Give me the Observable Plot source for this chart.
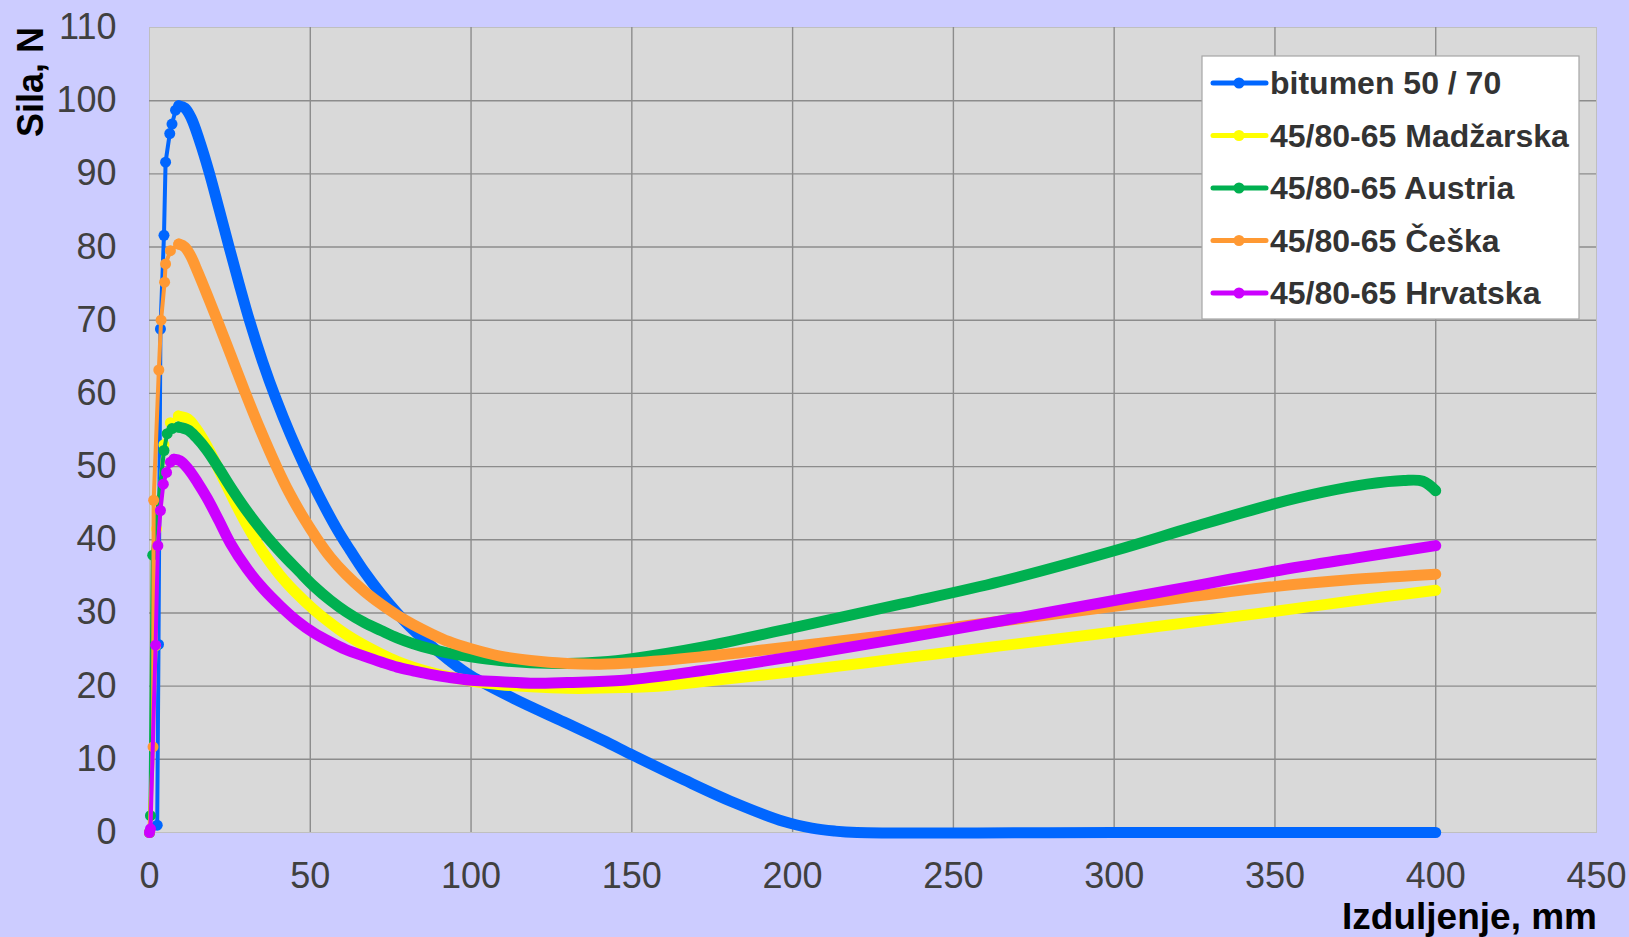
<!DOCTYPE html>
<html>
<head>
<meta charset="utf-8">
<script src="https://cdn.jsdelivr.net/npm/d3@7"></script>
<script src="https://cdn.jsdelivr.net/npm/@observablehq/plot@0.6"></script>
<style>
html, body { margin: 0; padding: 0; background: #CCCCFF; }
#chart { width: 1629px; height: 937px; }
</style>
</head>
<body>
<div id="chart"></div>
<script>
// ---- Data ----
const seriesNames = ["bitumen 50 / 70", "45/80-65 Madžarska", "45/80-65 Austria", "45/80-65 Češka", "45/80-65 Hrvatska"];
const seriesColors = ["#0066FF", "#FFFF00", "#00B050", "#FF9933", "#CC00FF"];

const xTicks = [0, 50, 100, 150, 200, 250, 300, 350, 400, 450];
const yTicks = [0, 10, 20, 30, 40, 50, 60, 70, 80, 90, 100, 110];
const xTitle = "Izduljenje, mm";
const yTitle = "Sila, N";

// rising part (sparse measured points, x in mm, force in N)
const riseBitumen = [[0,0],[2.4,1],[2.8,25.7],[3.4,68.8],[4.5,81.6],[5,91.6],[6.3,95.5],[7,96.8],[8.1,98.7],[9.1,99.3]];
const riseMadzarska = [[0,0],[1.9,25.5],[2.2,41.5],[4.5,53],[6.5,56],[9,56.9]];
const riseAustria = [[0,0],[0.3,2.3],[1,37.9],[4.5,52.2],[5.5,54.5],[7,55.2],[9,55.4]];
const riseCeska = [[0,0],[1.1,11.7],[1.3,45.4],[2.9,63.2],[3.6,70],[4.7,75.2],[5,77.7],[6.5,79.5],[9.1,80.4]];
const riseHrvatska = [[0,0],[0.3,0.5],[1.9,25.6],[2.6,39.2],[3.4,44],[4.3,47.6],[5.3,49.2],[6.5,50.6],[7.6,51]];

// dense part after the peak
const traceBitumen = [[9.1,99.3],[11,99.0],[13,97.6],[15.5,94.6],[18.5,90.3],[21.5,85.4],[24.7,80.1],[27.9,74.9],[31.2,69.8],[35.2,64.3],[39.3,59.3],[43.8,54.4],[48.3,50.0],[53.3,45.5],[58.5,41.3],[62.5,38.5],[66.7,35.7],[72,32.6],[77,30.0],[82,27.7],[87.4,25.6],[93,23.6],[100,21.4],[113.3,18.3],[128.9,15.1],[141,12.6],[150.6,10.5],[166.2,7.2],[181.7,4.1],[197.3,1.5],[206,0.6],[213,0.2],[220,0],[300,0],[400,0]];
const traceMadzarska = [[9,56.9],[12,56.5],[14.5,55.2],[18,52.7],[22,49.2],[26,45.6],[30.4,41.9],[35.6,38.1],[40.5,35.2],[45.9,32.6],[51,30.5],[56.3,28.6],[61,27.1],[66.7,25.6],[72,24.4],[77,23.4],[82,22.6],[87.4,21.9],[93,21.3],[100,20.7],[109.2,20.2],[118.5,19.9],[130,19.7],[147.5,19.8],[161,20.1],[171.4,20.6],[202.5,22.1],[233.6,23.8],[264.7,25.5],[300,27.4],[325,28.8],[349.7,30.2],[375,31.7],[400,33.1]];
const traceAustria = [[9,55.4],[12,55.0],[14.5,54.0],[17.9,52.2],[21.5,49.8],[25.5,47.0],[30,44.1],[35.6,40.9],[41,38.2],[46.5,35.7],[51,33.7],[56.3,31.7],[61,30.2],[66.7,28.7],[72,27.6],[77,26.6],[82,25.8],[87.4,25.1],[93,24.5],[100,24.0],[109,23.5],[118.5,23.2],[130,23.1],[140.3,23.3],[150.6,23.8],[171.4,25.3],[202.5,28.2],[233.6,31.2],[264.7,34.3],[300,38.5],[325,41.8],[349.7,44.9],[365,46.5],[378.7,47.6],[390,48.1],[396,48],[400,46.7]];
const traceCeska = [[9.1,80.4],[11,80.0],[12.8,78.8],[15,76.6],[17.9,73.5],[20.8,70.3],[25.3,65.2],[29.7,60.2],[34.5,55.0],[39.6,49.9],[43.5,46.4],[47.5,43.3],[52,40.2],[56.3,37.6],[61,35.3],[66.7,33.0],[72,31.2],[77,29.7],[82,28.4],[87.4,27.2],[93,26.1],[100,25.1],[109,24.1],[118.5,23.5],[130,23.1],[140,23.0],[150.6,23.2],[171.4,24.0],[192.1,25.0],[223.2,26.6],[249.1,28.0],[265,28.9],[300,30.9],[325,32.3],[349.7,33.6],[375,34.6],[400,35.3]];
const traceHrvatska = [[7.6,51],[9.5,50.8],[12,49.7],[15,47.8],[17.9,45.7],[21.5,42.7],[25.2,39.5],[30.4,36.0],[35.6,33.2],[40.8,30.9],[45.9,28.9],[51,27.3],[56.3,26.0],[61,25.0],[66.7,24.1],[72,23.3],[77,22.6],[82,22.1],[87.4,21.6],[93,21.2],[100,20.8],[109.2,20.6],[118.5,20.4],[130,20.5],[147.5,20.8],[171.4,22.1],[202.5,24.2],[233.6,26.5],[264.7,28.9],[300,31.7],[325,33.7],[349.7,35.7],[375,37.5],[400,39.2]];

const rises = [riseBitumen, riseMadzarska, riseAustria, riseCeska, riseHrvatska];
const traces = [traceBitumen, traceMadzarska, traceAustria, traceCeska, traceHrvatska];

// ---- Build rows ----
const toRows = (name, pts) => pts.map(([x, y]) => ({series: name, x, y}));

const seriesMarks = [];
seriesNames.forEach((name, i) => {
  const r = toRows(name, rises[i]);
  const t = toRows(name, traces[i]);
  seriesMarks.push(
    Plot.line(r, {x: "x", y: "y", stroke: "series", strokeWidth: 4, strokeLinecap: "round", strokeLinejoin: "round"}),
    Plot.dot(r, {x: "x", y: "y", fill: "series", stroke: "none", r: 5.5}),
    Plot.line(t, {x: "x", y: "y", stroke: "series", strokeWidth: 11, curve: "catmull-rom", strokeLinecap: "round", strokeLinejoin: "round"})
  );
});

const gridColor = "#8C8C8C";
const font = "'Liberation Sans', Arial, sans-serif";
const chart = Plot.plot({
  width: 1629,
  height: 937,
  marginLeft: 149,
  marginRight: 33,
  marginTop: 27,
  marginBottom: 105,
  style: {background: "#CCCCFF", fontFamily: font, overflow: "visible"},
  x: {domain: [0, 450], label: null},
  y: {domain: [0, 110], label: null},
  color: {domain: seriesNames, range: seriesColors},
  marks: [
    Plot.frame({fill: "#D9D9D9", stroke: "#BFBFBF"}),
    Plot.gridX(xTicks.filter(v => v > 0 && v < 450), {stroke: gridColor, strokeOpacity: 1, strokeWidth: 1.4}),
    Plot.gridY(yTicks.filter(v => v > 0 && v < 110), {stroke: gridColor, strokeOpacity: 1, strokeWidth: 1.4}),
    Plot.axisX({ticks: xTicks, tickSize: 0, tickPadding: 30, fontSize: 36, color: "#404040", label: null}),
    Plot.axisY({ticks: yTicks, tickSize: 0, tickPadding: 33, fontSize: 36, color: "#404040", label: null}),
    ...seriesMarks
  ]
});
document.getElementById("chart").appendChild(chart);

// ---- Titles and legend ----
const svg = d3.select(chart);
svg.append("text")
  .attr("transform", "translate(43,137) rotate(-90)")
  .attr("text-anchor", "start")
  .attr("font-size", 36).attr("font-weight", "bold").attr("fill", "#000")
  .attr("font-family", font)
  .text(yTitle);
svg.append("text")
  .attr("x", 1597).attr("y", 929)
  .attr("text-anchor", "end")
  .attr("font-size", 37).attr("font-weight", "bold").attr("fill", "#000")
  .attr("font-family", font)
  .text(xTitle);

const lg = svg.append("g");
lg.append("rect").attr("x", 1202).attr("y", 56).attr("width", 377).attr("height", 263)
  .attr("fill", "#FFFFFF").attr("stroke", "#A6A6A6").attr("stroke-width", 1.2);
seriesNames.forEach((name, i) => {
  const cy = 83 + i * 52.5;
  lg.append("line").attr("x1", 1213).attr("x2", 1266).attr("y1", cy).attr("y2", cy)
    .attr("stroke", seriesColors[i]).attr("stroke-width", 5).attr("stroke-linecap", "round");
  lg.append("circle").attr("cx", 1239).attr("cy", cy).attr("r", 5.5).attr("fill", seriesColors[i]);
  lg.append("text").attr("x", 1270).attr("y", cy + 11)
    .attr("text-anchor", "start")
    .attr("font-size", 32).attr("font-weight", "bold").attr("fill", "#333333")
    .attr("font-family", font)
    .text(name);
});
</script>
</body>
</html>
